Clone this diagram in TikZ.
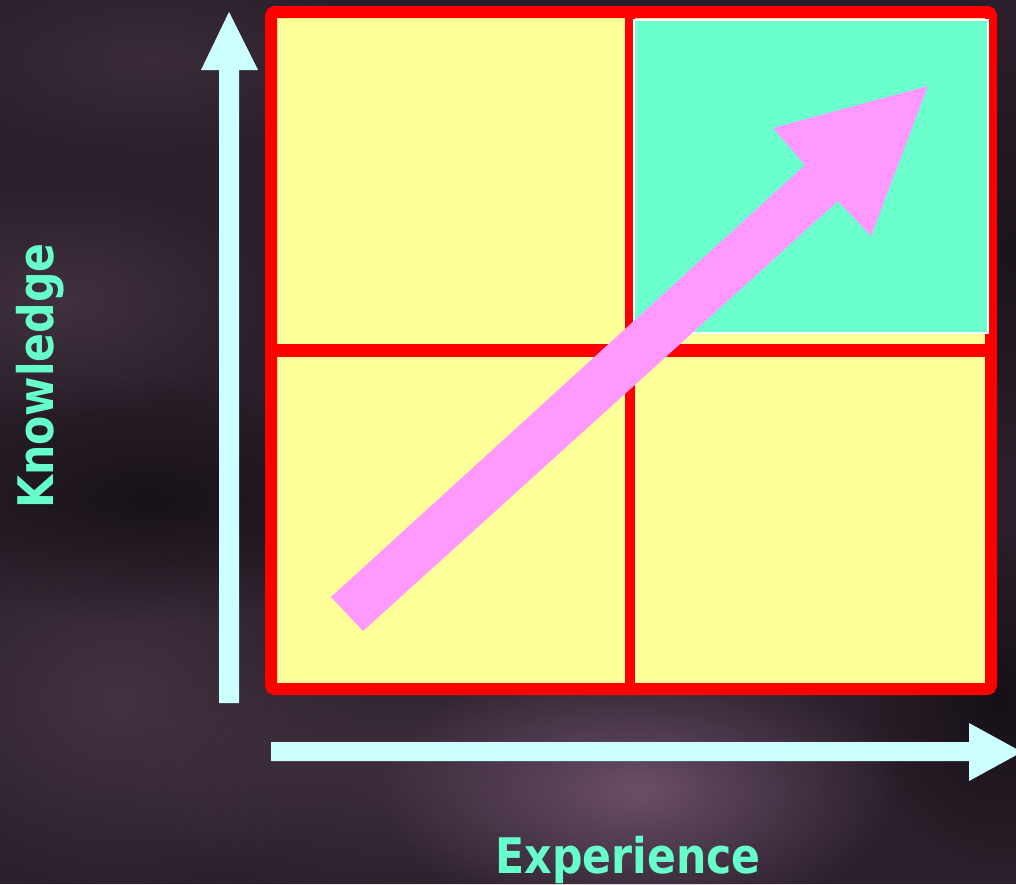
\documentclass[tikz,border=0pt]{standalone}
\usepackage{fontspec}
\newfontfamily\labelfont{DejaVu Sans}
\usetikzlibrary{fadings}
\tikzfading[name=softblob, inner color=transparent!0, outer color=transparent!100]
\definecolor{bgbase}{HTML}{2A1F2A}
\definecolor{bglight}{HTML}{4A3848}
\definecolor{bgpink}{HTML}{7A5A78}
\definecolor{bgdark}{HTML}{120C12}
\definecolor{cellyellow}{HTML}{FFFF99}
\definecolor{cellgreen}{HTML}{6AFFCC}
\definecolor{arrowpink}{HTML}{FF99FF}
\definecolor{axiscyan}{HTML}{CCFFFF}
\definecolor{labelgreen}{HTML}{66FFCC}
\tikzset{
  blob/.style={path fading=softblob},
  gridline/.style={draw=red, line width=#1},
  axisarrow/.style={fill=axiscyan},
  axislabel/.style={text=labelgreen, font=\labelfont\bfseries\fontsize{49}{52}\selectfont, inner sep=0pt}
}
\begin{document}
\begin{tikzpicture}[x=1pt,y=-1pt]
\useasboundingbox (0,0) rectangle (1016,884);
% background
\fill[bgbase] (0,0) rectangle (1016,884);
\fill[bglight, opacity=0.7, blob] (60,300) ellipse (220 and 120);
\fill[bglight, opacity=0.8, blob] (120,700) ellipse (260 and 200);
\fill[bglight, opacity=0.6, blob] (400,770) ellipse (300 and 140);
\fill[bgpink, opacity=0.8, blob] (640,790) ellipse (260 and 140);
\fill[bglight, opacity=0.5, blob] (150,60) ellipse (240 and 100);
\fill[bgdark, opacity=0.7, blob] (150,500) ellipse (260 and 120);
\fill[bgdark, opacity=0.8, blob] (1000,700) ellipse (140 and 170);
\fill[bgdark, opacity=0.6, blob] (1010,250) ellipse (70 and 220);
% grid cells
\fill[cellyellow] (271,12) rectangle (991,689);
\draw[gridline=12, rounded corners=4] (271,12) rectangle (991,689);
\draw[gridline=10] (630,12) -- (630,689);
\draw[gridline=13] (271,350) -- (991,350);
\fill[cellgreen, draw=white, line width=1.5] (634,20) rectangle (988,333);
% pink arrow
\fill[arrowpink] (331,597) -- (805,165) -- (773,128) -- (928,86) -- (871,236) -- (838,201) -- (363,631) -- cycle;
% axes
\fill[axisarrow] (219,703) -- (219,70) -- (201,70) -- (229,12) -- (258,70) -- (239,70) -- (239,703) -- cycle;
\fill[axisarrow] (271,742) -- (969,742) -- (969,723) -- (1022,752) -- (969,781) -- (969,761) -- (271,761) -- cycle;
% labels
\node[axislabel, anchor=base, rotate=90] (knowledge) at (53,376) {\scalebox{0.87}[1]{Knowledge}};
\node[axislabel, anchor=base] (experience) at (628,873) {\scalebox{0.87}[1]{Experience}};
\end{tikzpicture}
\end{document}
